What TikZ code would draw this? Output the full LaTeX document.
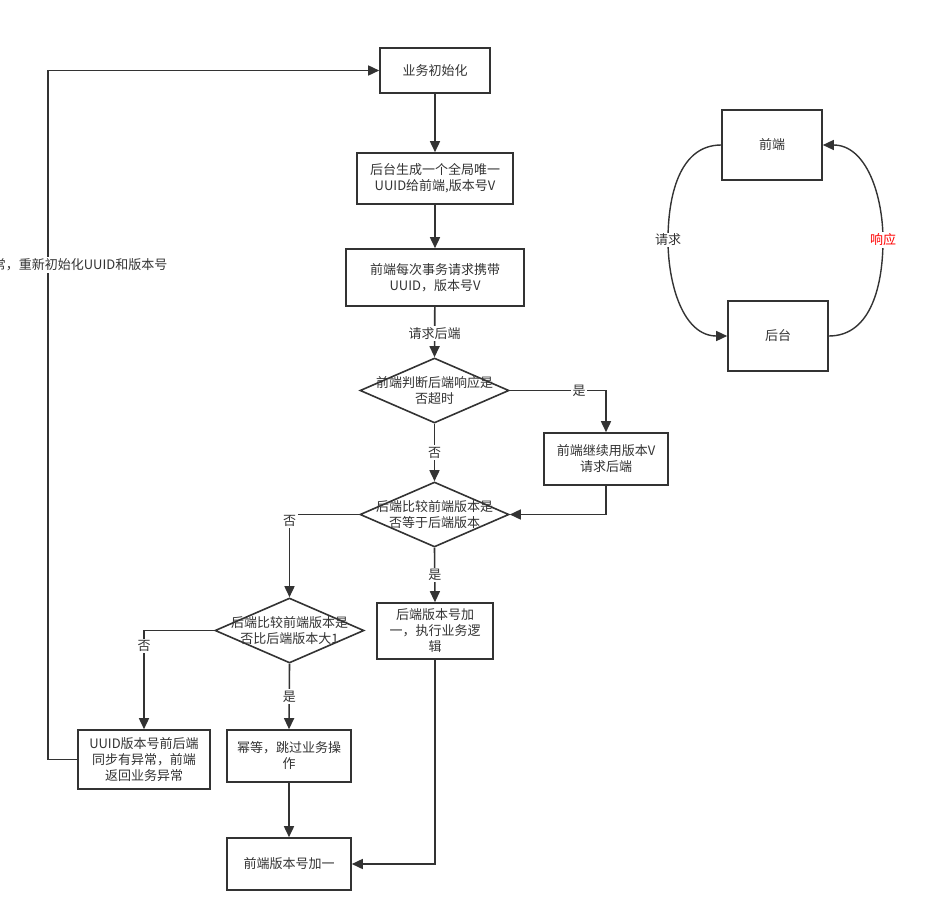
\documentclass[tikz,border=0pt]{standalone}
\usepackage{fontspec}
\setmainfont{Noto Sans CJK SC}
\usetikzlibrary{arrows.meta,shapes.geometric}
\definecolor{ln}{HTML}{333333}
\begin{document}
\begin{tikzpicture}[x=1pt,y=-1pt,
  every node/.style={font=\fontsize{13}{16}\selectfont, text=ln},
  box/.style={draw=ln, line width=1.6pt, align=center, inner sep=0pt, fill=white},
  dia/.style={draw=ln, line width=1.6pt, shape=diamond, inner sep=0pt, minimum width=149pt, minimum height=65pt, fill=white},
  conn/.style={draw=ln, line width=1.6pt, -{Triangle[length=11pt,width=10pt]}},
  curve/.style={draw=ln, line width=1.4pt, -{Triangle[length=11pt,width=10pt]}},
  lbl/.style={fill=white, inner sep=1.5pt}
]
\useasboundingbox (0,0) rectangle (935,921);
\clip (0,0) rectangle (935,921);

% nodes
\node[box, minimum width=110pt, minimum height=45pt] (init) at (435,70.5) {业务初始化};
\node[box, minimum width=156pt, minimum height=51pt] (gen) at (435,178.5) {后台生成一个全局唯一\\UUID给前端,版本号V};
\node[box, minimum width=178pt, minimum height=57pt] (req) at (435,277.5) {前端每次事务请求携带\\UUID，版本号V};
\node[dia, label={[align=center]center:前端判断后端响应是\\否超时}] (d1) at (434.5,390.5) {};
\node[box, minimum width=124pt, minimum height=52pt] (cont) at (606,459) {前端继续用版本V\\请求后端};
\node[dia, label={[align=center]center:后端比较前端版本是\\否等于后端版本}] (d2) at (434.5,514.5) {};
\node[box, minimum width=116pt, minimum height=56pt] (incr) at (435,631) {后端版本号加\\一，执行业务逻\\辑};
\node[dia, label={[align=center]center:后端比较前端版本是\\否比后端版本大1}] (d3) at (289.5,630.5) {};
\node[box, minimum width=132pt, minimum height=59pt] (uuid) at (144,759.5) {UUID版本号前后端\\同步有异常，前端\\返回业务异常};
\node[box, minimum width=124pt, minimum height=52pt] (mid) at (289,756) {幂等，跳过业务操\\作};
\node[box, minimum width=124pt, minimum height=52pt] (fin) at (289,864) {前端版本号加一};
\node[box, minimum width=100pt, minimum height=70pt] (fe) at (772,145) {前端};
\node[box, minimum width=100pt, minimum height=70pt] (bt) at (778,336) {后台};

% connectors
\draw[conn] (init) -- (gen);
\draw[conn] (gen) -- (req);
\draw[conn] (req) -- node[lbl, pos=0.53] (l1) {请求后端} (d1.north);
\draw[conn] (d1.east) -| node[lbl, pos=0.36] (l2) {是} (cont.north);
\draw[conn] (d1.south) -- node[lbl, pos=0.5] (l3) {否} (d2.north);
\draw[conn] (cont.south) |- (d2.east);
\draw[conn] (d2.west) -| node[lbl, pos=0.54] (l4) {否} (d3.north);
\draw[conn] (d2.south) -- node[lbl, pos=0.5] (l5) {是} (incr.north);
\draw[conn] (d3.west) -| node[lbl, pos=0.58] (l6) {否} (uuid.north);
\draw[conn] (d3.south) -- node[lbl, pos=0.5] (l7) {是} (mid.north);
\draw[conn] (mid) -- (fin);
\draw[conn] (incr.south) |- (fin.east);
\coordinate (lc) at (48,759.5);
\draw[conn] (uuid.west) -- (lc) |- (init.west);
\node[lbl, anchor=east] (l8) at (169,265) {常，重新初始化UUID和版本号};

% right cycle
\draw[curve] (fe.west) to[out=180,in=90] (668,240) node[lbl] (l9) {请求} to[out=-90,in=180] (bt.west);
\draw[curve] (bt.east) to[out=0,in=-90] (883,240) node[lbl, text=red] (l10) {响应} to[out=90,in=0] (fe.east);
\end{tikzpicture}
\end{document}
